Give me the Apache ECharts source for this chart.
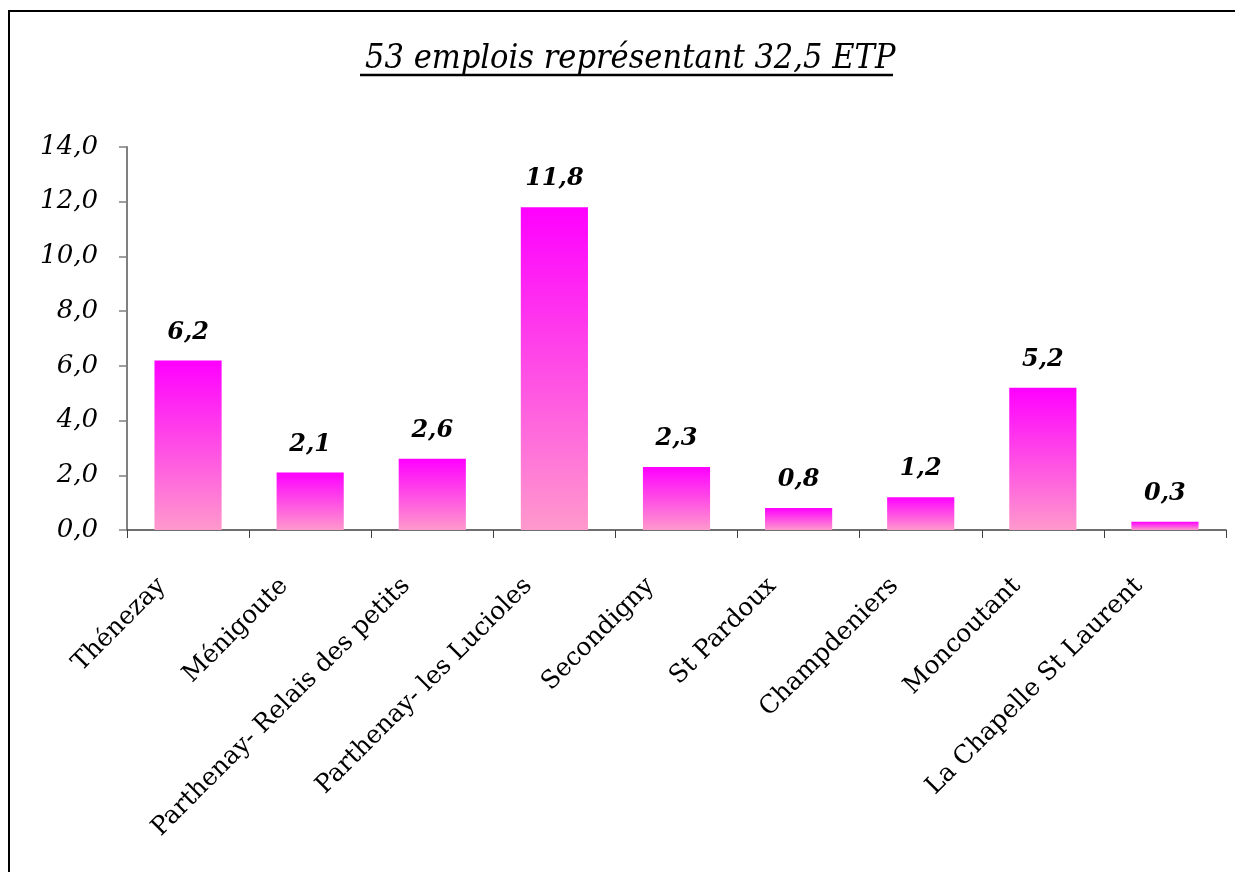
<!DOCTYPE html>
<html>
<head>
<meta charset="utf-8">
<script src="https://cdn.jsdelivr.net/npm/echarts@6/dist/echarts.min.js"></script>
<style>html,body{margin:0;padding:0;background:#fff;}#c{width:1235px;height:872px;}</style>
</head>
<body>
<div id="c"></div>
<script>
const titleText = '53 emplois représentant 32,5 ETP';
const categories = ['Thénezay', 'Ménigoute', 'Parthenay- Relais des petits', 'Parthenay- les Lucioles', 'Secondigny', 'St Pardoux', 'Champdeniers', 'Moncoutant', 'La Chapelle St Laurent'];
const values = [6.2, 2.1, 2.6, 11.8, 2.3, 0.8, 1.2, 5.2, 0.3];
const yMin = 0, yMax = 14, yStep = 2;

const SERIF = '"DejaVu Serif", serif';
const fmt = v => v.toFixed(1).replace('.', ',');
const chart = echarts.init(document.getElementById('c'), null, {renderer: 'canvas'});
chart.setOption({
  animation: false,
  backgroundColor: '#fff',
  title: {
    text: titleText,
    left: 360, top: 37,
    textStyle: {fontFamily: '"DejaVu Serif Condensed", "DejaVu Serif", serif', fontStyle: 'italic', fontWeight: 'normal', fontSize: 34, color: '#000'}
  },
  graphic: [
    {type: 'rect', shape: {x: 9, y: 11, width: 1240, height: 880}, style: {fill: 'none', stroke: '#000', lineWidth: 2}, silent: true},
    {type: 'line', shape: {x1: 360, y1: 75, x2: 893, y2: 75}, style: {stroke: '#000', lineWidth: 2.5}, silent: true}
  ],
  grid: {left: 127, right: 9, top: 147, bottom: 342, containLabel: false},
  xAxis: {
    type: 'category', data: categories, boundaryGap: true,
    axisLine: {lineStyle: {color: '#404040', width: 1.5}},
    axisTick: {show: true, length: 8, lineStyle: {color: '#404040'}},
    axisLabel: {
      rotate: 45, interval: 0, margin: 26, padding: [0, 37, 0, 0],
      fontFamily: SERIF, fontSize: 25, color: '#000'
    }
  },
  yAxis: {
    type: 'value', min: yMin, max: yMax, interval: yStep,
    splitLine: {show: false},
    axisLine: {show: true, lineStyle: {color: '#808080', width: 2}},
    axisTick: {show: true, length: 8, lineStyle: {color: '#808080', width: 1.5}},
    axisLabel: {
      formatter: v => fmt(v), margin: 29,
      fontFamily: SERIF, fontStyle: 'italic', fontSize: 26, color: '#000'
    }
  },
  series: [{
    type: 'bar', data: values, barWidth: '55%',
    itemStyle: {
      color: new echarts.graphic.LinearGradient(0, 0, 0, 1, [
        {offset: 0, color: '#FF00FF'}, {offset: 1, color: '#FF99CC'}
      ])
    },
    label: {
      show: true, position: 'top', distance: 16,
      formatter: p => fmt(p.value),
      fontFamily: SERIF, fontStyle: 'italic', fontWeight: 'bold', fontSize: 24, color: '#000'
    }
  }]
});
</script>
</body>
</html>
